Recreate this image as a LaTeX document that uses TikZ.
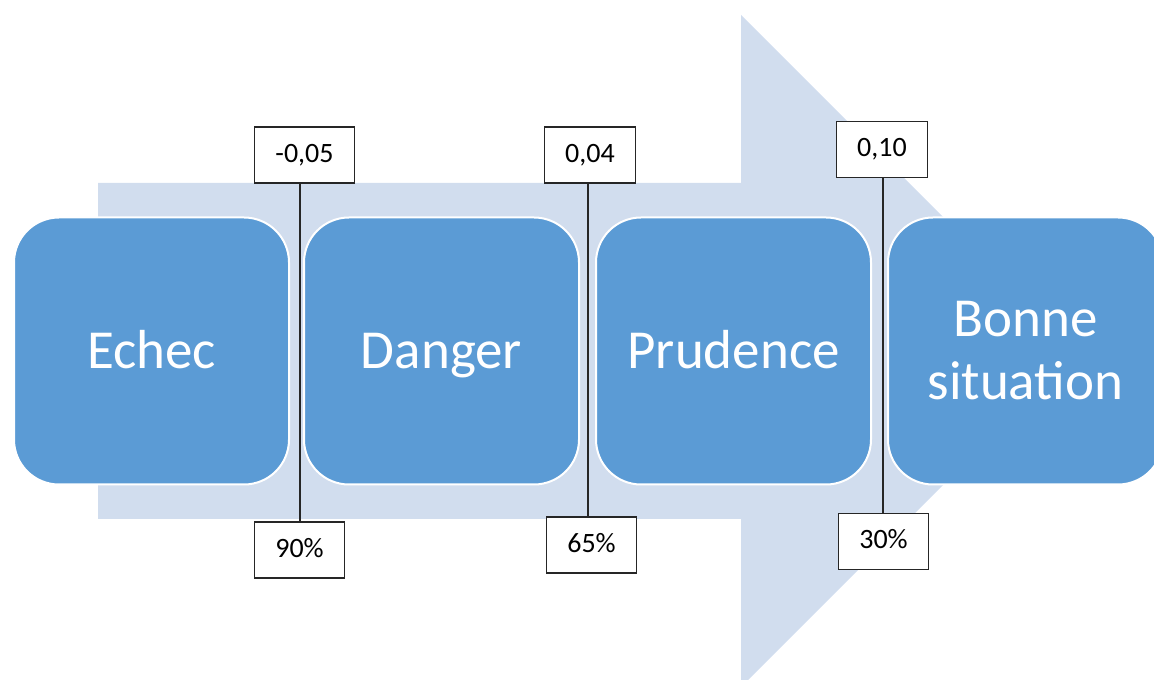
\documentclass[tikz,border=0pt]{standalone}
\usepackage{fontspec}
\setmainfont{Carlito}
\definecolor{stageblue}{RGB}{91,155,213}
\definecolor{arrowpale}{RGB}{209,221,238}

\begin{document}
\begin{tikzpicture}[x=1pt,y=1pt,
    stage/.style={draw=white, line width=2pt, fill=stageblue, rounded corners=45pt,
      minimum width=275pt, minimum height=267pt, text=white, align=center,
      font=\fontsize{55}{63}\selectfont},
    oneline/.style={text height=36pt, text depth=0pt},
    tag/.style={draw=black!85, fill=white, line width=1.3pt, minimum height=56pt,
      inner xsep=21pt, text height=20pt, text depth=5pt,
      font=\fontsize{28}{32}\selectfont}]
    \clip (0,0) rectangle (1154,680);
    % big pale arrow behind the stages
    \fill[arrowpale] (98,161) -- (741,161) -- (741,-7) -- (1077,329)
      -- (741,665) -- (741,497) -- (98,497) -- cycle;
    % stages
    \node[stage, oneline] (echec) at (151.5,329) {Echec};
    \node[stage, oneline] (danger) at (441.5,329) {Danger};
    \node[stage, oneline] (prudence) at (733.5,329) {Prudence};
    \node[stage] (bonne) at (1025.5,329) {Bonne\\situation};
    % thresholds between stages
    \node[tag] (s1) at (304.5,525) {-0,05};
    \node[tag] (p1) at (299.5,130) {90\%};
    \node[tag] (s2) at (590,525) {0,04};
    \node[tag] (p2) at (591.5,135) {65\%};
    \node[tag] (s3) at (882,530.5) {0,10};
    \node[tag] (p3) at (883.5,138.5) {30\%};
    \draw[black!85, line width=1.3pt] (300,0 |- s1.south) -- (300,0 |- p1.north);
    \draw[black!85, line width=1.3pt] (588,0 |- s2.south) -- (588,0 |- p2.north);
    \draw[black!85, line width=1.3pt] (883,0 |- s3.south) -- (883,0 |- p3.north);
\end{tikzpicture}
\end{document}
